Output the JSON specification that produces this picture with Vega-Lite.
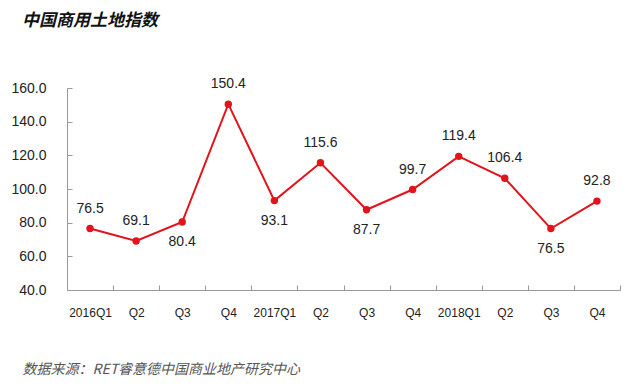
{
  "$schema": "https://vega.github.io/schema/vega-lite/v6.json",
  "autosize": "none",
  "width": 553,
  "height": 202,
  "padding": {"left": 67, "top": 88, "right": 20, "bottom": 101},
  "background": "white",
  "title": {
    "text": "中国商用土地指数",
    "anchor": "start",
    "frame": "group",
    "font": "Noto Sans CJK SC",
    "fontSize": 17,
    "fontStyle": "italic",
    "fontWeight": "bold",
    "color": "#111",
    "dx": -45,
    "offset": 47
  },
  "data": {
    "values": [
      {"q": "2016Q1", "v": 76.5},
      {"q": "2016Q2", "v": 69.1},
      {"q": "2016Q3", "v": 80.4},
      {"q": "2016Q4", "v": 150.4},
      {"q": "2017Q1", "v": 93.1},
      {"q": "2017Q2", "v": 115.6},
      {"q": "2017Q3", "v": 87.7},
      {"q": "2017Q4", "v": 99.7},
      {"q": "2018Q1", "v": 119.4},
      {"q": "2018Q2", "v": 106.4},
      {"q": "2018Q3", "v": 76.5},
      {"q": "2018Q4", "v": 92.8}
    ]
  },
  "encoding": {
    "x": {
      "field": "q",
      "type": "ordinal",
      "sort": null,
      "bandPosition": 0.5,
      "scale": {"type": "band", "paddingInner": 0, "paddingOuter": 0},
      "axis": {
        "title": "数据来源：RET睿意德中国商业地产研究中心",
        "titleFont": "Noto Sans CJK SC",
        "titleFontSize": 14,
        "titleFontStyle": "italic",
        "titleFontWeight": "normal",
        "titleColor": "#555",
        "titleAnchor": "start",
        "titleAlign": "left",
        "titleBaseline": "middle",
        "titleX": -45,
        "titleY": 79,
        "labelAngle": 0,
        "labelExpr": "datum.value == null ? '' : (substring(datum.value, 5) == '1' ? datum.value : substring(datum.value, 4))",
        "labelFont": "Liberation Sans",
        "labelFontSize": 12,
        "labelColor": "#222",
        "labelPadding": 22,
        "tickBand": "extent",
        "tickSize": -5,
        "tickColor": "#999",
        "domainColor": "#999",
        "grid": false
      }
    },
    "y": {
      "field": "v",
      "type": "quantitative",
      "scale": {"domain": [40, 160], "nice": false, "zero": false},
      "axis": {
        "title": null,
        "values": [40, 60, 80, 100, 120, 140, 160],
        "format": ".1f",
        "labelFont": "Liberation Sans",
        "labelFontSize": 14,
        "labelColor": "#222",
        "labelPadding": 26,
        "tickSize": -5,
        "tickColor": "#999",
        "domainColor": "#999",
        "grid": false
      }
    }
  },
  "layer": [
    {"mark": {"type": "line", "color": "#E3131B", "strokeWidth": 2}, "encoding": {}},
    {"mark": {"type": "point", "filled": true, "color": "#E3131B", "size": 55, "opacity": 1}, "encoding": {}},
    {
      "transform": [{"filter": {"not": {"field": "q", "oneOf": ["2016Q3", "2017Q1", "2017Q3", "2018Q3"]}}}],
      "mark": {"type": "text", "dy": -20, "font": "Liberation Sans", "fontSize": 14, "color": "#222"},
      "encoding": {"text": {"field": "v", "type": "quantitative", "format": ".1f"}}
    },
    {
      "transform": [{"filter": {"field": "q", "oneOf": ["2016Q3", "2017Q1", "2017Q3", "2018Q3"]}}],
      "mark": {"type": "text", "dy": 20, "font": "Liberation Sans", "fontSize": 14, "color": "#222"},
      "encoding": {"text": {"field": "v", "type": "quantitative", "format": ".1f"}}
    }
  ],
  "config": {"view": {"stroke": null}}
}
